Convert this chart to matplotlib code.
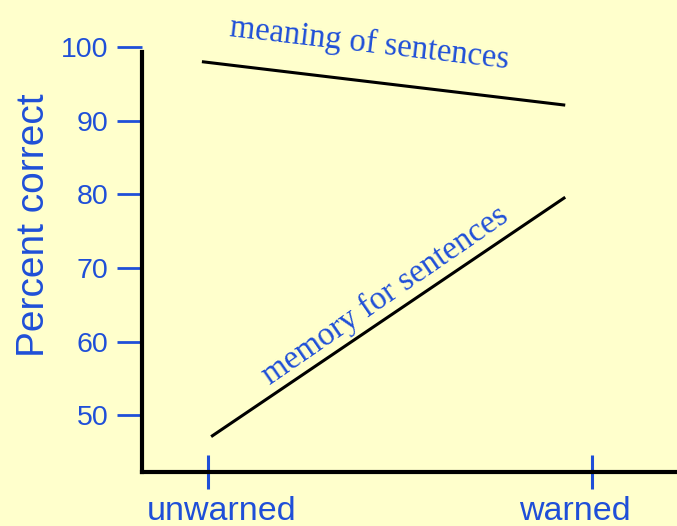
import matplotlib
matplotlib.use("Agg")
import matplotlib.pyplot as plt
import matplotlib.transforms as mtransforms

# data
conditions = ["unwarned", "warned"]
meaning_pct = [98.0, 92.1]
memory_pct = [47.1, 79.6]
y_ticks = [50, 60, 70, 80, 90, 100]

BG = "#ffffcc"
BLUE = "#1f4fd8"

fig = plt.figure(figsize=(6.77, 5.26), dpi=100, facecolor=BG)
ax = fig.add_axes([142 / 677, 54 / 526, 535 / 677, 442 / 526])
ax.set_facecolor(BG)

cat_x = list(range(len(conditions)))

# the lines stop a little short of the "warned" tick in the original
ax.plot([-0.016, 0.93], meaning_pct, color="black", lw=2.2, solid_capstyle="butt")
ax.plot([0.008, 0.93], memory_pct, color="black", lw=2.2, solid_capstyle="butt")

ax.text(0.419, 100.4, "meaning of sentences", rotation=-6.6, color=BLUE,
        fontsize=23.5, family="Liberation Serif", ha="center", va="center",
        rotation_mode="anchor")
ax.text(0.46, 66.3, "memory for sentences", rotation=34.6, color=BLUE,
        fontsize=23.8, family="Liberation Serif", ha="center", va="center",
        rotation_mode="anchor")

ax.set_xlim(-0.172, 1.221)
ax.set_ylim(42.3, 102.3)

ax.set_xticks(cat_x)
ax.set_xticklabels(conditions)
ax.set_yticks(y_ticks)
ax.set_yticklabels([str(v) for v in y_ticks])

ax.tick_params(axis="x", direction="inout", length=24, width=2.2, color=BLUE,
               labelcolor=BLUE, labelsize=24.5, pad=5)
ax.tick_params(axis="y", direction="out", length=18, width=2, color=BLUE,
               labelcolor=BLUE, labelsize=20.5, pad=6)
for lab in ax.get_xticklabels() + ax.get_yticklabels():
    lab.set_family("Liberation Sans")

# category labels sit a bit off their ticks in the original
for lab, dx in zip(ax.get_xticklabels(), [14, -17]):
    lab.set_transform(lab.get_transform() +
                      mtransforms.ScaledTranslation(dx / 100, 0, fig.dpi_scale_trans))

ax.spines["top"].set_visible(False)
ax.spines["right"].set_visible(False)
for s in ("left", "bottom"):
    ax.spines[s].set_linewidth(3)
    ax.spines[s].set_color("black")
ax.spines["left"].set_bounds(42.3, 99.3)

ax.set_ylabel("Percent correct", color=BLUE, fontsize=28, family="Liberation Sans")
ax.yaxis.set_label_coords(-0.168, 0.559)

fig.savefig("out.png", dpi=100, facecolor=BG)
